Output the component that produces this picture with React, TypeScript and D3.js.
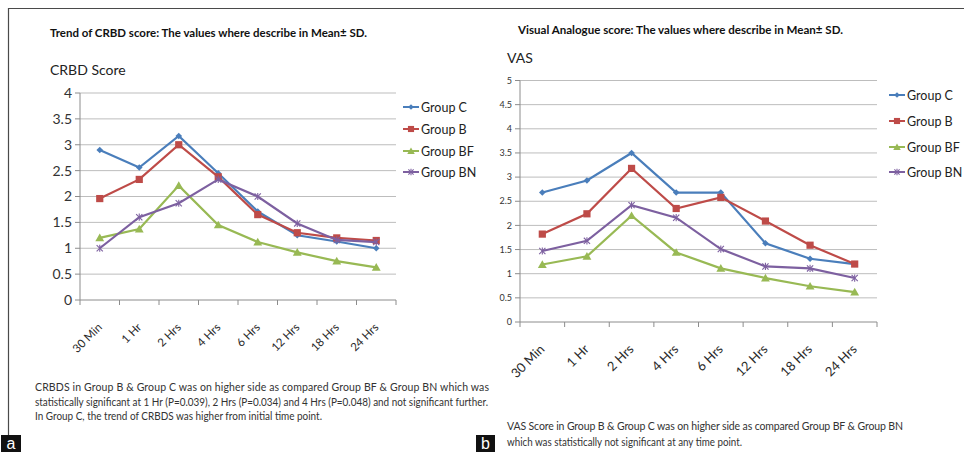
import React from "react";
import * as d3 from "d3";

const categories = ["30 Min", "1 Hr", "2 Hrs", "4 Hrs", "6 Hrs", "12 Hrs", "18 Hrs", "24 Hrs"];
const seriesNames = ["Group C", "Group B", "Group BF", "Group BN"];

const crbdC = [2.9, 2.56, 3.17, 2.45, 1.71, 1.25, 1.13, 1.0];
const crbdB = [1.96, 2.33, 3.0, 2.38, 1.65, 1.3, 1.2, 1.15];
const crbdBF = [1.2, 1.37, 2.21, 1.45, 1.12, 0.92, 0.75, 0.63];
const crbdBN = [1.0, 1.6, 1.87, 2.33, 2.0, 1.48, 1.16, 1.12];

const vasC = [2.68, 2.93, 3.5, 2.68, 2.68, 1.63, 1.31, 1.2];
const vasB = [1.82, 2.24, 3.18, 2.35, 2.58, 2.09, 1.59, 1.2];
const vasBF = [1.19, 1.36, 2.2, 1.44, 1.11, 0.91, 0.74, 0.62];
const vasBN = [1.47, 1.68, 2.42, 2.16, 1.51, 1.15, 1.11, 0.91];

const crbdTicks = [0, 0.5, 1, 1.5, 2, 2.5, 3, 3.5, 4];
const vasTicks = [0, 0.5, 1, 1.5, 2, 2.5, 3, 3.5, 4, 4.5, 5];

const COLORS = ["#4a7ebb", "#be4b48", "#98b954", "#7d60a0"];
const MARKERS = ["diamond", "square", "triangle", "star"];
const FONT = "Lato, 'Open Sans', sans-serif";

function Marker({ kind, x, y, color, s = 1 }: { kind: string; x: number; y: number; color: string; s?: number }) {
  if (kind === "diamond") {
    const r = 3.3 * s;
    return <path d={`M${x},${y - r}L${x + r},${y}L${x},${y + r}L${x - r},${y}Z`} fill={color} />;
  }
  if (kind === "square") {
    const r = 3.6 * s;
    return <rect x={x - r} y={y - r} width={2 * r} height={2 * r} fill={color} />;
  }
  if (kind === "triangle") {
    const p = d3.symbol().type(d3.symbolTriangle).size(34 * s * s)();
    return <path d={p || ""} transform={`translate(${x},${y + 0.8})`} fill={color} />;
  }
  const r = 3.1 * s;
  return (
    <g stroke={color} strokeWidth={1.1}>
      <line x1={x - r} y1={y - r} x2={x + r} y2={y + r} />
      <line x1={x - r} y1={y + r} x2={x + r} y2={y - r} />
      <line x1={x} y1={y - r - 0.5} x2={x} y2={y + r + 0.5} />
    </g>
  );
}

type PanelProps = {
  series: number[][];
  ticks: number[];
  x0: number;
  x1: number;
  yTop: number;
  yBottom: number;
  yMax: number;
  yLabelSize: number;
  yLabelRight: number;
  xLabelSize: number;
  xLabelDy: number;
  legendX: number;
  legendYs: number[];
};

function Panel(p: PanelProps) {
  const x = d3.scaleBand<string>().domain(categories).range([p.x0, p.x1]);
  const y = d3.scaleLinear().domain([0, p.yMax]).range([p.yBottom, p.yTop]);
  const cx = (c: string) => (x(c) as number) + x.bandwidth() / 2;
  const line = d3
    .line<number>()
    .x((_, i) => cx(categories[i]))
    .y((d) => y(d));
  const tickXs = [...categories.map((c) => x(c) as number), p.x1];
  return (
    <g>
      {p.ticks.map((t) => (
        <g key={t}>
          {t > 0 && <line x1={p.x0} x2={p.x1} y1={y(t)} y2={y(t)} stroke="#bdbdbd" strokeWidth={1} />}
          <line x1={p.x0 - 5} x2={p.x0} y1={y(t)} y2={y(t)} stroke="#8c8c8c" />
          <text
            x={p.yLabelRight}
            y={y(t)}
            dy="0.35em"
            textAnchor="end"
            fontSize={p.yLabelSize}
            fill="#333"
            fontFamily={FONT}
          >
            {String(t)}
          </text>
        </g>
      ))}
      <line x1={p.x0} x2={p.x0} y1={p.yTop} y2={p.yBottom} stroke="#8c8c8c" />
      <line x1={p.x0} x2={p.x1} y1={p.yBottom} y2={p.yBottom} stroke="#8c8c8c" />
      {tickXs.map((tx, i) => (
        <line key={i} x1={tx} x2={tx} y1={p.yBottom} y2={p.yBottom + 5} stroke="#8c8c8c" />
      ))}
      {categories.map((c) => (
        <text
          key={c}
          transform={`translate(${cx(c) + 3},${p.yBottom + p.xLabelDy}) rotate(-45)`}
          textAnchor="end"
          fontSize={p.xLabelSize}
          fill="#2a2a2a"
          fontFamily={FONT}
        >
          {c}
        </text>
      ))}
      {p.series.map((s, si) => (
        <g key={si}>
          <path d={line(s) || ""} fill="none" stroke={COLORS[si]} strokeWidth={2.2} />
          {s.map((v, i) => (
            <Marker key={i} kind={MARKERS[si]} x={cx(categories[i])} y={y(v)} color={COLORS[si]} />
          ))}
        </g>
      ))}
      {seriesNames.map((n, si) => (
        <g key={n}>
          <line
            x1={p.legendX}
            x2={p.legendX + 16}
            y1={p.legendYs[si]}
            y2={p.legendYs[si]}
            stroke={COLORS[si]}
            strokeWidth={2}
          />
          <Marker kind={MARKERS[si]} x={p.legendX + 8} y={p.legendYs[si]} color={COLORS[si]} s={0.85} />
          <text
            x={p.legendX + 18}
            y={p.legendYs[si]}
            dy="0.36em"
            fontSize={12.5}
            fill="#222"
            fontFamily={FONT}
          >
            {n}
          </text>
        </g>
      ))}
    </g>
  );
}

export default function App() {
  return (
    <svg
      width={964}
      height={452}
      style={{ position: "fixed", left: 0, top: 0, background: "#fff" }}
      fontFamily={FONT}
    >
      <rect x={0} y={0} width={964} height={452} fill="#fff" />
      <line x1={8} x2={964} y1={8.5} y2={8.5} stroke="#4a4a4a" strokeWidth={1.2} />
      <line x1={8.5} x2={8.5} y1={8} y2={435} stroke="#4a4a4a" strokeWidth={1.2} />

      <text x={50} y={37} fontSize={12} fontWeight="bold" fill="#111" textLength={317} lengthAdjust="spacingAndGlyphs">
        Trend  of CRBD score: The values where describe in Mean± SD.
      </text>
      <text x={50} y={75} fontSize={14} fill="#222">
        CRBD Score
      </text>
      <Panel
        series={[crbdC, crbdB, crbdBF, crbdBN]}
        ticks={crbdTicks}
        x0={80}
        x1={396}
        yTop={93}
        yBottom={300}
        yMax={4}
        yLabelSize={14}
        yLabelRight={72}
        xLabelSize={11.5}
        xLabelDy={28}
        legendX={403}
        legendYs={[107, 129, 151, 172]}
      />
      <text x={35} y={391} fontSize={10.5} fill="#333" textLength={454} lengthAdjust="spacing">
        CRBDS in Group B &amp; Group C was on higher side as compared Group BF &amp; Group BN which was
      </text>
      <text x={35} y={405.5} fontSize={10.5} fill="#333" textLength={453} lengthAdjust="spacingAndGlyphs">
        statistically significant at 1 Hr (P=0.039), 2 Hrs (P=0.034) and 4 Hrs (P=0.048) and not significant further.
      </text>
      <text x={35} y={420} fontSize={10.5} fill="#333" textLength={287} lengthAdjust="spacingAndGlyphs">
        In Group C, the trend of CRBDS was higher from initial time point.
      </text>

      <text x={518} y={34} fontSize={12} fontWeight="bold" fill="#111" textLength={325} lengthAdjust="spacingAndGlyphs">
        Visual Analogue score:  The values where describe in Mean± SD.
      </text>
      <text x={507} y={63} fontSize={14} fill="#222">
        VAS
      </text>
      <Panel
        series={[vasC, vasB, vasBF, vasBN]}
        ticks={vasTicks}
        x0={520}
        x1={877}
        yTop={80.5}
        yBottom={322}
        yMax={5}
        yLabelSize={9}
        yLabelRight={512}
        xLabelSize={13}
        xLabelDy={28}
        legendX={889}
        legendYs={[95, 121, 147, 172]}
      />
      <text x={507} y={430} fontSize={10.5} fill="#333" textLength={396} lengthAdjust="spacing">
        VAS Score in Group B &amp; Group C was on higher side as compared Group BF &amp; Group BN
      </text>
      <text x={507} y={446} fontSize={10.5} fill="#333" textLength={235} lengthAdjust="spacingAndGlyphs">
        which was statistically not significant at any time point.
      </text>

      <rect x={1} y={435} width={20} height={17} fill="#111" />
      <text x={11} y={449} fontSize={16} fill="#fff" textAnchor="middle" fontFamily="'Liberation Sans', sans-serif">
        a
      </text>
      <rect x={476} y={435} width={19} height={17} fill="#111" />
      <text x={485.5} y={449} fontSize={16} fill="#fff" textAnchor="middle" fontFamily="'Liberation Sans', sans-serif">
        b
      </text>
    </svg>
  );
}
